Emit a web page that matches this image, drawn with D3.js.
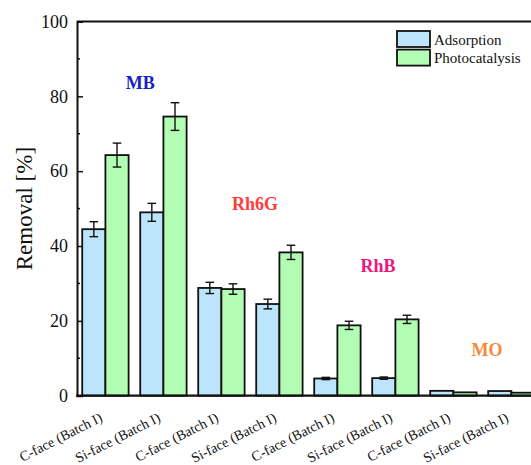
<!DOCTYPE html>
<html>
<head>
<meta charset="utf-8">
<script src="https://cdn.jsdelivr.net/npm/d3@7"></script>
<style>
  body { margin: 0; background: #fff; }
  text { font-family: "Liberation Serif", "Times New Roman", serif; }
</style>
</head>
<body>
<div id="chart"></div>
<script>
// datos
const categorias = ["C-face (Batch I)", "Si-face (Batch I)", "C-face (Batch I)", "Si-face (Batch I)",
                    "C-face (Batch I)", "Si-face (Batch I)", "C-face (Batch I)", "Si-face (Batch I)"]
const adsorcion = [44.5, 49.0, 28.8, 24.5, 4.6, 4.7, 1.3, 1.25]
const adsorcionErr = [2.0, 2.4, 1.5, 1.3, 0.3, 0.3, 0, 0]
const fotocatalisis = [64.3, 74.6, 28.5, 38.3, 18.8, 20.4, 0.9, 0.8]
const fotocatalisisErr = [3.2, 3.7, 1.4, 1.9, 1.1, 1.1, 0, 0]
const series = ["Adsorption", "Photocatalysis"]
const ticksY = [0, 20, 40, 60, 80, 100]
const colorantes = ["MB", "Rh6G", "RhB", "MO"]
const colorantesPos = [0.6, 2.58, 4.7, 6.58]   // posicion en unidades de grupo
const colorantesVal = [82, 49.6, 33.1, 10.6]
const colorantesColor = ["#1a1fc4", "#ff3b3b", "#f0147c", "#f5893a"]

const ancho = 531
const alto = 465
const margen = { izquierdo: 77, superior: 21.5, inferior: 69.3 }
const colores = ["#bce4fb", "#b3fcb3"]
const serif = "Liberation Serif, Times New Roman, serif"

const svg = d3.select("#chart").append("svg").attr("width", ancho).attr("height", alto)

const x = d3.scaleBand().domain(d3.range(categorias.length))
    .range([margen.izquierdo, margen.izquierdo + 462.8])
    .paddingInner(0.2).paddingOuter(0.09)
const x1 = d3.scaleBand().domain(series).range([0, x.bandwidth()])
const y = d3.scaleLinear().domain([0, 100]).range([alto - margen.inferior, margen.superior])

const datos = categorias.map((c, i) => ({
    i: i,
    valores: [
        { s: series[0], v: adsorcion[i], e: adsorcionErr[i] },
        { s: series[1], v: fotocatalisis[i], e: fotocatalisisErr[i] }
    ]
}))

// barras
const grupos = svg.append("g").selectAll("g").data(datos).enter().append("g")
    .attr("transform", d => `translate(${x(d.i)},0)`)

grupos.selectAll("rect").data(d => d.valores).enter().append("rect")
    .attr("x", d => x1(d.s))
    .attr("y", d => y(d.v))
    .attr("width", x1.bandwidth())
    .attr("height", d => y(0) - y(d.v))
    .attr("fill", (d, j) => colores[j])
    .attr("stroke", "#111")
    .attr("stroke-width", 1.8)

// barras de error
const errores = grupos.selectAll("g.err").data(d => d.valores.filter(v => v.e > 0)).enter()
    .append("g").attr("class", "err")
    .attr("transform", d => `translate(${x1(d.s) + x1.bandwidth() / 2},0)`)
errores.append("line").attr("y1", d => y(d.v + d.e)).attr("y2", d => y(d.v - d.e))
    .attr("stroke", "#111").attr("stroke-width", 1.4)
errores.append("line").attr("x1", -4.3).attr("x2", 4.3)
    .attr("y1", d => y(d.v + d.e)).attr("y2", d => y(d.v + d.e))
    .attr("stroke", "#111").attr("stroke-width", 1.4)
errores.append("line").attr("x1", -4.3).attr("x2", 4.3)
    .attr("y1", d => y(d.v - d.e)).attr("y2", d => y(d.v - d.e))
    .attr("stroke", "#111").attr("stroke-width", 1.4)

// marco
const derecha = x.range()[1]
svg.append("line").attr("x1", margen.izquierdo).attr("x2", derecha)
    .attr("y1", y(100)).attr("y2", y(100)).attr("stroke", "#111").attr("stroke-width", 2)
svg.append("line").attr("x1", margen.izquierdo - 1).attr("x2", derecha)
    .attr("y1", y(0)).attr("y2", y(0)).attr("stroke", "#111").attr("stroke-width", 2.2)

// eje y
const ejeY = d3.axisLeft(y).tickValues(ticksY).tickSize(-6).tickPadding(9)
const grupoY = svg.append("g").attr("transform", `translate(${margen.izquierdo},0)`).call(ejeY)
grupoY.attr("font-family", serif)
grupoY.select(".domain").attr("stroke", "#111").attr("stroke-width", 2)
grupoY.selectAll(".tick line").attr("stroke", "#111").attr("stroke-width", 1.5)
grupoY.selectAll(".tick text").attr("font-size", 18).attr("fill", "#111")
grupoY.selectAll(".menor").data(d3.range(10, 100, 20)).enter().append("line")
    .attr("x1", 0).attr("x2", 3).attr("y1", d => y(d)).attr("y2", d => y(d))
    .attr("stroke", "#111").attr("stroke-width", 1.5)

svg.append("text").attr("transform", `translate(32,${(y(0) + y(100)) / 2}) rotate(-90)`)
    .attr("text-anchor", "middle").attr("font-size", 23).attr("fill", "#111")
    .attr("font-family", serif)
    .text("Removal [%]")

// etiquetas eje x
svg.append("g").selectAll("text").data(datos).enter().append("text")
    .attr("transform", d => `translate(${x(d.i) + x.bandwidth() / 2 - 2},${y(0) + 25}) rotate(-27)`)
    .attr("text-anchor", "end").attr("font-size", 14).attr("fill", "#111")
    .attr("font-family", serif)
    .text(d => categorias[d.i])

// nombres de colorantes
svg.append("g").selectAll("text").data(colorantes).enter().append("text")
    .attr("x", (d, i) => x(0) + x.bandwidth() / 2 + colorantesPos[i] * x.step())
    .attr("y", (d, i) => y(colorantesVal[i]))
    .attr("text-anchor", "middle").attr("font-size", 18).attr("font-weight", "bold")
    .attr("font-family", serif)
    .attr("fill", (d, i) => colorantesColor[i])
    .text(d => d)

// leyenda
const leyenda = svg.append("g").attr("transform", "translate(397,31)")
const item = leyenda.selectAll("g").data(series).enter().append("g")
    .attr("transform", (d, i) => `translate(0,${i * 18.6})`)
item.append("rect").attr("width", 33).attr("height", 16)
    .attr("fill", (d, i) => colores[i]).attr("stroke", "#111").attr("stroke-width", 1.8)
item.append("text").attr("x", 37).attr("y", 13.5).attr("font-size", 15).attr("fill", "#111")
    .attr("font-family", serif)
    .text(d => d)
</script>
</body>
</html>
